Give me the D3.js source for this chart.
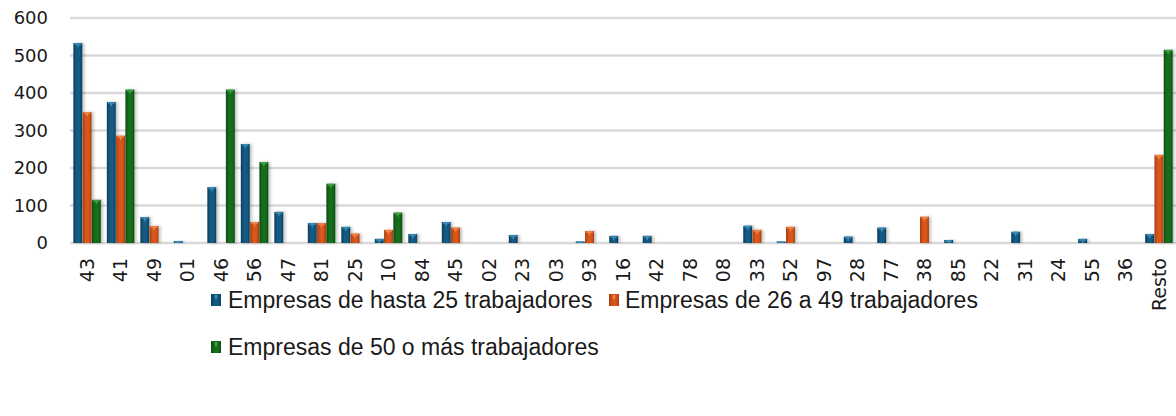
<!DOCTYPE html>
<html>
<head>
<meta charset="utf-8">
<title>Empresas por actividad</title>
<style>
  body { margin: 0; background: #fff; }
  text { font-family: "DejaVu Sans", sans-serif; fill: #1a1a1a; }
  .legend text { font-family: "Liberation Sans", Arial, sans-serif; }
</style>
</head>
<body>
<script src="https://d3js.org/d3.v7.min.js"></script>
<script>
const categories = ["43","41","49","01","46","56","47","81","25","10","84","45","02","23","03","93","16","42","78","08","33","52","97","28","77","38","85","22","31","24","55","36","Resto"];
const hasta25 = [533,376,69,5,149,264,83,53,43,11,24,56,0,21,0,4,19,19,0,0,46,4,0,17,41,0,8,0,30,0,11,0,24];
const de26a49 = [349,286,45,0,0,56,0,53,25,35,0,41,0,0,0,32,0,0,0,0,35,43,0,0,0,70,0,0,0,0,0,0,235];
const mas50 = [115,409,0,0,409,216,0,158,0,81,0,0,0,0,0,0,0,0,0,0,0,0,0,0,0,0,0,0,0,0,0,0,515];
const seriesNames = ["Empresas de hasta 25 trabajadores", "Empresas de 26 a 49 trabajadores", "Empresas de 50 o más trabajadores"];
const yTicks = [0, 100, 200, 300, 400, 500, 600];

const W = 1176, H = 416;
const colors = [
  {base: "#135a82", dark: "#0b3f5e", light: "#3d8fbd"},
  {base: "#d9571a", dark: "#a53d0e", light: "#f08a4a"},
  {base: "#186e1d", dark: "#0d4a11", light: "#3fa845"}
];

const svg = d3.select("body").append("svg")
  .attr("width", W)
  .attr("height", H);

const defs = svg.append("defs");
colors.forEach((c, i) => {
  const g = defs.append("linearGradient").attr("id", "grad" + i)
    .attr("x1", 0).attr("x2", 1).attr("y1", 0).attr("y2", 0);
  g.append("stop").attr("offset", "0%").attr("stop-color", c.dark);
  g.append("stop").attr("offset", "35%").attr("stop-color", c.base);
  g.append("stop").attr("offset", "70%").attr("stop-color", c.base);
  g.append("stop").attr("offset", "100%").attr("stop-color", c.dark);
});
const shadow = defs.append("filter").attr("id", "shadow")
  .attr("x", "-50%").attr("y", "-10%").attr("width", "200%").attr("height", "120%");
shadow.append("feDropShadow").attr("dx", 2).attr("dy", 0).attr("stdDeviation", 1.5)
  .attr("flood-color", "#000").attr("flood-opacity", 0.25);

const x = d3.scaleBand()
  .domain(categories)
  .range([70, 1176])
  .paddingInner(0.18)
  .paddingOuter(0.1);

const xs = d3.scaleBand()
  .domain([0, 1, 2])
  .range([0, x.bandwidth()])
  .paddingInner(0.04);

const y = d3.scaleLinear()
  .domain([0, 600])
  .range([243, 18]);

// gridlines
svg.append("g")
  .selectAll("line")
  .data(yTicks)
  .join("line")
  .attr("x1", 70).attr("x2", W)
  .attr("y1", d => y(d)).attr("y2", d => y(d))
  .attr("stroke", "#d9d9d9")
  .attr("stroke-width", 2.5);

// y axis labels
const yAxis = svg.append("g")
  .attr("transform", "translate(48,0)")
  .call(d3.axisLeft(y).tickValues(yTicks).tickSize(0).tickPadding(0));
yAxis.select(".domain").remove();
yAxis.selectAll("text")
  .attr("font-size", 18)
  .attr("font-family", "DejaVu Sans, sans-serif")
  .attr("fill", "#1a1a1a");

// bars
const series = [hasta25, de26a49, mas50];
const rows = [];
series.forEach((vals, s) => {
  vals.forEach((v, i) => {
    if (v > 0) rows.push({cat: categories[i], s, v});
  });
});

const bars = svg.append("g");
const bar = bars.selectAll("g")
  .data(rows)
  .join("g")
  .attr("transform", d => `translate(${x(d.cat) + xs(d.s)},0)`);

bar.append("rect")
  .attr("x", 0)
  .attr("width", xs.bandwidth())
  .attr("y", d => y(d.v))
  .attr("height", d => y(0) - y(d.v))
  .attr("fill", d => `url(#grad${d.s})`)
  .attr("filter", "url(#shadow)");

// small lighter cap at the top of each bar
bar.append("rect")
  .attr("x", 1)
  .attr("width", xs.bandwidth() - 2)
  .attr("y", d => y(d.v))
  .attr("height", d => Math.min(2, y(0) - y(d.v)))
  .attr("fill", d => colors[d.s].light)
  .attr("opacity", 0.8);
bar.append("rect")
  .attr("x", xs.bandwidth() / 2 - 0.75)
  .attr("width", 1.5)
  .attr("y", d => y(d.v))
  .attr("height", d => Math.min(4, y(0) - y(d.v)))
  .attr("fill", d => colors[d.s].light);

// x axis labels
const xAxis = svg.append("g")
  .attr("transform", "translate(0,258)")
  .call(d3.axisBottom(x).tickSize(0).tickPadding(0));
xAxis.select(".domain").remove();
xAxis.selectAll("text")
  .attr("font-size", 19)
  .attr("font-family", "DejaVu Sans, sans-serif")
  .attr("fill", "#1a1a1a")
  .attr("text-anchor", "end")
  .attr("dy", "0.35em")
  .attr("transform", "rotate(-90)")
  .attr("x", 0)
  .attr("y", 0);

// legend
const legendPos = [
  {mx: 211, tx: 228, y: 300},
  {mx: 609, tx: 625, y: 300},
  {mx: 211, tx: 228, y: 347}
];
const legend = svg.append("g").attr("class", "legend")
  .selectAll("g")
  .data(seriesNames)
  .join("g");

legend.append("rect")
  .attr("x", (d, i) => legendPos[i].mx)
  .attr("y", (d, i) => legendPos[i].y - 6)
  .attr("width", 10)
  .attr("height", 12)
  .attr("fill", (d, i) => `url(#grad${i})`);
legend.append("rect")
  .attr("x", (d, i) => legendPos[i].mx + 4)
  .attr("y", (d, i) => legendPos[i].y - 5)
  .attr("width", 2)
  .attr("height", 4)
  .attr("fill", (d, i) => colors[i].light);

legend.append("text")
  .attr("x", (d, i) => legendPos[i].tx)
  .attr("y", (d, i) => legendPos[i].y)
  .attr("dy", "0.35em")
  .attr("font-size", 23)
  .attr("fill", "#1a1a1a")
  .text(d => d);
</script>
</body>
</html>
